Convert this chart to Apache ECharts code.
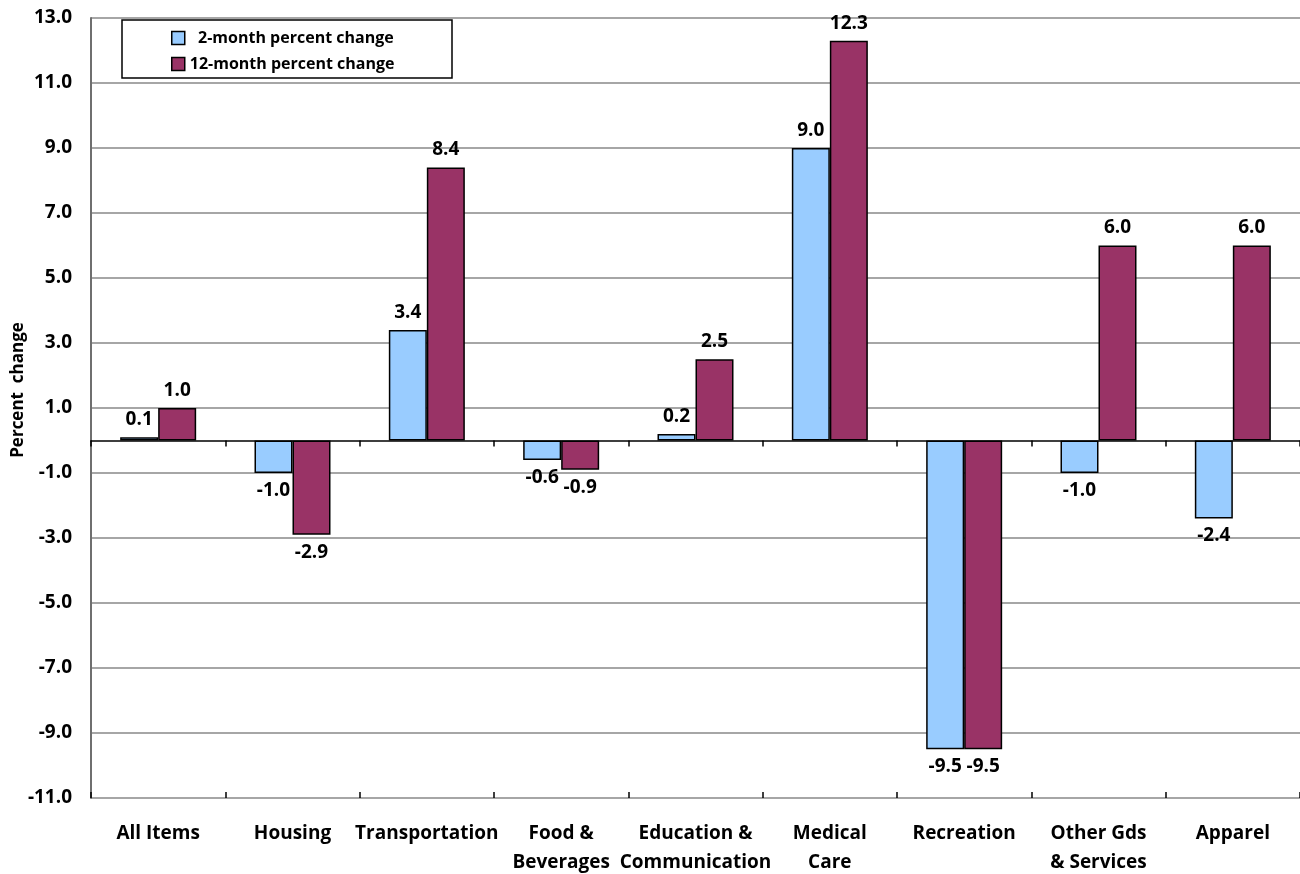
<!DOCTYPE html>
<html>
<head>
<meta charset="utf-8">
<script src="https://cdn.jsdelivr.net/npm/echarts@6/dist/echarts.min.js"></script>
<style>
  html, body { margin: 0; padding: 0; background: #fff; }
  #chart { width: 1300px; height: 874px; }
</style>
</head>
<body>
<div id="chart"></div>
<script>
// Categories and percent changes
const categories = ['All Items', 'Housing', 'Transportation', 'Food &\nBeverages',
  'Education &\nCommunication', 'Medical\nCare', 'Recreation', 'Other Gds\n& Services', 'Apparel'];
const twoMonth = [0.1, -1.0, 3.4, -0.6, 0.2, 9.0, -9.5, -1.0, -2.4];
const twelveMonth = [1.0, -2.9, 8.4, -0.9, 2.5, 12.3, -9.5, 6.0, 6.0];
const seriesNames = ['2-month percent change', '12-month percent change'];
const yTitle = 'Percent  change';

const FONT = '"Open Sans", "Noto Sans", sans-serif';
const chart = echarts.init(document.getElementById('chart'));

function barSeries(name, values, color) {
  return {
    name: name,
    type: 'bar',
    xAxisIndex: 0,
    data: values.map(v => ({
      value: v,
      label: { position: v >= 0 ? 'top' : 'bottom' }
    })),
    barWidth: 38,
    barGap: '0%',
    itemStyle: { color: color, borderColor: '#000', borderWidth: 1.5 },
    label: {
      show: true,
      distance: 8,
      formatter: p => p.value.toFixed(1),
      fontFamily: FONT, fontWeight: 'bold', fontSize: 19, color: '#000'
    },
    z: 3
  };
}

chart.setOption({
  animation: false,
  backgroundColor: '#fff',
  grid: { left: 91, right: 0, top: 18, bottom: 76, containLabel: false, outerBoundsMode: 'none' },
  graphic: [
    {
      // legend frame
      type: 'rect',
      shape: { x: 122, y: 20, width: 330, height: 58 },
      style: { fill: '#fff', stroke: '#000', lineWidth: 1.5 },
      z: 10
    },
    {
      // vertical axis title
      type: 'text',
      x: 18, y: 390,
      rotation: Math.PI / 2,
      style: {
        text: yTitle, fill: '#000',
        font: 'bold 17px "Open Sans", "Noto Sans", sans-serif',
        align: 'center', verticalAlign: 'middle'
      },
      z: 10
    }
  ],
  legend: {
    orient: 'vertical',
    left: 166, top: 25,
    icon: 'rect',
    itemWidth: 13, itemHeight: 13,
    itemGap: 10,
    z: 11,
    data: seriesNames,
    formatter: n => (n === seriesNames[0] ? '  ' + n : n),
    textStyle: { fontFamily: FONT, fontWeight: 'bold', fontSize: 16, color: '#000' },
    itemStyle: { borderColor: '#000', borderWidth: 1.5 }
  },
  xAxis: [
    {
      // zero line with ticks below it
      type: 'category', data: categories, position: 'bottom',
      axisLine: { onZero: true, lineStyle: { color: '#000', width: 1.5 } },
      axisTick: { show: true, length: 6, lineStyle: { color: '#000', width: 1.5 } },
      axisLabel: { show: false }, splitLine: { show: false }, z: 5
    },
    {
      // tick marks above the zero line
      type: 'category', data: categories, position: 'bottom',
      axisLine: { onZero: true, show: false },
      axisTick: { show: true, inside: true, length: 6, lineStyle: { color: '#000', width: 1.5 } },
      axisLabel: { show: false }, splitLine: { show: false }, z: 5
    },
    {
      // category names along the bottom
      type: 'category', data: categories, position: 'bottom',
      axisLine: { onZero: false, show: false },
      axisTick: { show: false },
      axisLabel: {
        margin: 21, interval: 0,
        fontFamily: FONT, fontWeight: 'bold', fontSize: 19, color: '#000', lineHeight: 29
      },
      splitLine: { show: false }
    }
  ],
  yAxis: {
    type: 'value', min: -11, max: 13, interval: 2,
    axisLine: { show: true, lineStyle: { color: '#6f6f6f', width: 2 } },
    axisTick: { show: false },
    axisLabel: {
      margin: 19, formatter: v => v.toFixed(1),
      fontFamily: FONT, fontWeight: 'bold', fontSize: 19, color: '#000'
    },
    splitLine: { show: true, lineStyle: { color: '#a6a6a6', width: 2 } }
  },
  series: [
    barSeries(seriesNames[0], twoMonth, '#99CCFF'),
    barSeries(seriesNames[1], twelveMonth, '#993366')
  ]
});
</script>
</body>
</html>
